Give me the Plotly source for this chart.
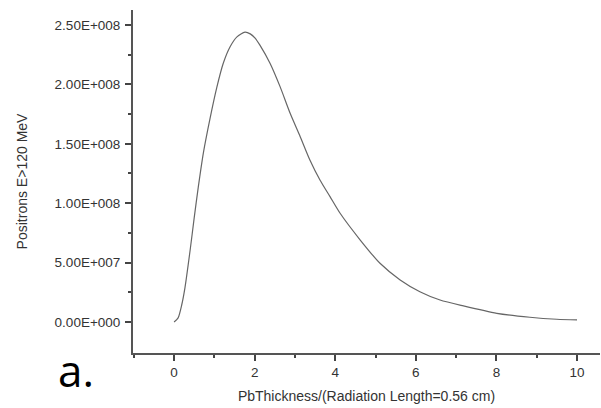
import plotly.graph_objects as go

thickness = [0.0, 0.1, 0.19, 0.27, 0.40, 0.50, 0.60, 0.73, 0.89, 1.06, 1.22, 1.39, 1.56, 1.76, 1.89, 2.01, 2.13,
             2.38, 2.63, 2.88, 3.13, 3.37, 3.62, 3.87, 4.12, 4.62, 5.11, 5.61, 6.10, 6.60, 7.18, 8.01, 8.83, 9.50, 10.0]
positrons = [0.0, 3.5e6, 1.45e7, 2.9e7, 6.1e7, 8.8e7, 1.135e8, 1.43e8, 1.71e8, 1.975e8, 2.178e8, 2.317e8, 2.40e8,
             2.44e8, 2.425e8, 2.39e8, 2.33e8,
             2.178e8, 1.981e8, 1.757e8, 1.56e8, 1.364e8, 1.195e8, 1.055e8, 9.15e7, 6.9e7, 4.94e7, 3.54e7, 2.55e7,
             1.85e7, 1.35e7, 7.3e6, 4.0e6, 2.3e6, 1.7e6]

ytick_vals = [0, 5e7, 1e8, 1.5e8, 2e8, 2.5e8]
ytick_text = ["0.00E+000", "5.00E+007", "1.00E+008", "1.50E+008", "2.00E+008", "2.50E+008"]
xtick_vals = [0, 2, 4, 6, 8, 10]

fig = go.Figure()
fig.add_trace(go.Scatter(x=thickness, y=positrons, mode="lines",
                         line=dict(color="#666666", width=1.2, shape="spline", smoothing=0.7),
                         showlegend=False, hoverinfo="skip"))

font_family = "Liberation Sans, Arial, sans-serif"
axis_font = dict(family=font_family, size=13.5, color="#333333")
tick_color = "#444444"
fig.update_layout(
    width=601, height=408,
    margin=dict(l=133, r=1, t=10, b=55, autoexpand=False),
    paper_bgcolor="white", plot_bgcolor="white",
    xaxis=dict(range=[-1.02, 10.57], tickvals=xtick_vals, ticks="outside", ticklen=6, tickwidth=1.5, tickcolor=tick_color,
               showline=True, linecolor="#555555", linewidth=2, showgrid=False, zeroline=False, tickfont=axis_font,
               automargin=False,
               minor=dict(tickvals=[-1, 1, 3, 5, 7, 9], ticks="outside", ticklen=3, tickwidth=1.5, tickcolor=tick_color),
               title=dict(text="PbThickness/(Radiation Length=0.56 cm)",
                          font=dict(family=font_family, size=14, color="#333333"), standoff=12)),
    yaxis=dict(range=[-2.61e7, 2.626e8], tickvals=ytick_vals, ticktext=ytick_text, ticks="outside", ticklen=6, tickwidth=1.5,
               tickcolor=tick_color, showline=True, linecolor="#555555", linewidth=2, showgrid=False, zeroline=False,
               tickfont=axis_font, automargin=False, ticklabelstandoff=2,
               minor=dict(tickvals=[2.5e7, 7.5e7, 1.25e8, 1.75e8, 2.25e8], ticks="outside", ticklen=3, tickwidth=1.5,
                          tickcolor=tick_color),
               title=dict(text="Positrons E>120 MeV", font=dict(family=font_family, size=14, color="#333333"), standoff=24)),
)
fig.add_annotation(text="a.", xref="paper", yref="paper", x=-0.165, y=-0.05, xanchor="left", yanchor="middle",
                   showarrow=False, font=dict(family="Open Sans, sans-serif", size=44, color="#000000"))
fig.write_html("out.html", config={"displayModeBar": False},
               post_script="document.body.style.margin='0';")
